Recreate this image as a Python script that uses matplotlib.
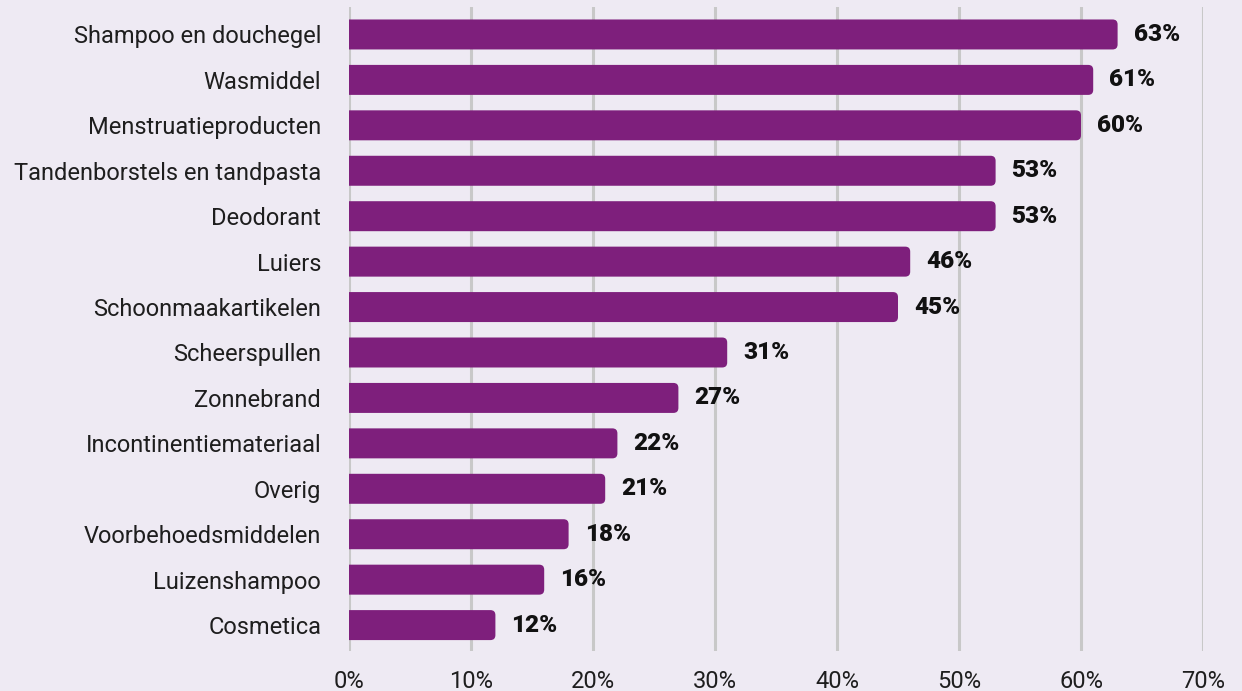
import numpy as np
import matplotlib.pyplot as plt
from matplotlib.patches import FancyBboxPatch

categories = ['Shampoo en douchegel', 'Wasmiddel', 'Menstruatieproducten',
              'Tandenborstels en tandpasta', 'Deodorant', 'Luiers',
              'Schoonmaakartikelen', 'Scheerspullen', 'Zonnebrand',
              'Incontinentiemateriaal', 'Overig', 'Voorbehoedsmiddelen',
              'Luizenshampoo', 'Cosmetica']
values = [63, 61, 60, 53, 53, 46, 45, 31, 27, 22, 21, 18, 16, 12]
xticks = [0, 10, 20, 30, 40, 50, 60, 70]

bg = '#EEEAF3'
purple = '#7E1F7C'

plt.rcParams['font.family'] = ['Roboto', 'DejaVu Sans']

fig = plt.figure(figsize=(12.42, 6.91), dpi=100, facecolor=bg)
ax = fig.add_axes([0.281, 0.0579, 0.6876, 0.932])
ax.set_facecolor(bg)

y = np.arange(len(categories))
bars = ax.barh(y, values, height=0.66, color='none')
ax.set_xlim(0, 70)
ax.set_ylim(13.57, -0.605)

# afgeronde rechterhoeken; linkerkant valt buiten de as en wordt weggeknipt
px_x = 0.6876 * 1242 / 70
px_y = 0.932 * 691 / (13.57 + 0.605)
r = 5 / px_x
for b in bars:
    x0, y0 = b.get_x(), b.get_y()
    w, h = b.get_width(), b.get_height()
    ax.add_patch(FancyBboxPatch((x0 - 2, y0), w + 2, h,
                                boxstyle=f'round,pad=0,rounding_size={r}',
                                mutation_aspect=px_x / px_y,
                                fc=purple, ec='none', zorder=3))

for yi, v in zip(y, values):
    ax.annotate(f'{v}%', (v, yi), xytext=(11.5, 0), textcoords='offset points',
                va='center', ha='left', fontsize=17.5, fontweight='black',
                color='#111111')

ax.set_yticks(y)
ax.set_yticklabels(categories, fontsize=17, color='#1E1E1E')
ax.set_xticks(xticks)
ax.set_xticklabels([f'{t}%' for t in xticks], fontsize=17, color='#1E1E1E')
ax.tick_params(axis='y', length=0, pad=20)
ax.tick_params(axis='x', length=0, pad=14)

ax.grid(axis='x', color='#C8C8C8', linewidth=2.2, zorder=0)
ax.grid(axis='y', visible=False)
ax.set_axisbelow(True)
for s in ax.spines.values():
    s.set_visible(False)

fig.savefig('out.png', dpi=100, facecolor=bg)
